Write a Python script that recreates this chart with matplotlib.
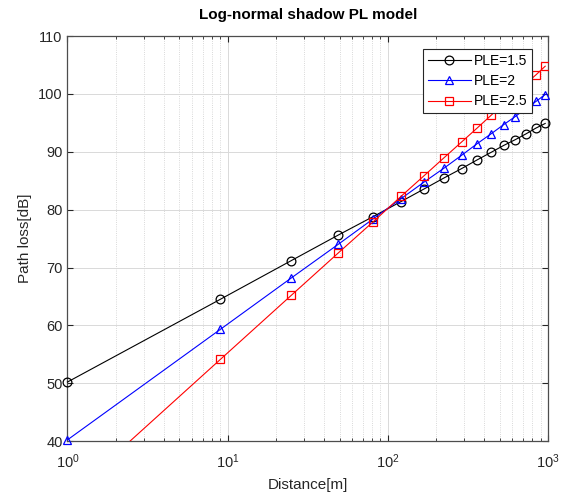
import numpy as np
import matplotlib.pyplot as plt
from matplotlib.ticker import LogLocator, NullFormatter

plt.rcParams['font.family'] = ['Liberation Sans', 'DejaVu Sans']

# Datos
distancia = [1, 9, 25, 49, 81, 121, 169, 225, 289, 361, 441, 529, 625, 729, 841, 961]
pl_15 = [50.2, 64.5, 71.2, 75.6, 78.8, 81.4, 83.6, 85.5, 87.1, 88.6, 89.9, 91.1, 92.1, 93.1, 94.1, 94.9]
pl_20 = [40.2, 59.3, 68.2, 74.0, 78.4, 81.9, 84.8, 87.2, 89.4, 91.4, 93.1, 94.7, 96.1, 97.5, 98.7, 99.9]
pl_25 = [30.2, 54.1, 65.2, 72.5, 77.9, 82.3, 85.9, 89.0, 91.7, 94.1, 96.3, 98.3, 100.1, 101.8, 103.3, 104.8]
etiquetas = ['PLE=1.5', 'PLE=2', 'PLE=2.5']

gris = '#262626'

fig = plt.figure(figsize=(5.62, 4.95), dpi=100)
ax = fig.add_axes([0.120, 0.109, 0.855, 0.818])

ax.semilogx(distancia, pl_15, 'k-o', lw=0.8, ms=6.3, mfc='none', mew=0.9,
            label=etiquetas[0], clip_on=False, zorder=3)
ax.semilogx(distancia, pl_20, '-^', color='#0000ff', lw=0.8, ms=6.3, mfc='none', mew=0.9,
            label=etiquetas[1], clip_on=False, zorder=3)
ax.semilogx(distancia, pl_25, '-s', color='#ff0000', lw=0.8, ms=5.5, mfc='none', mew=0.9,
            label=etiquetas[2], zorder=3)

ax.set_xlim(1, 1000)
ax.set_ylim(40, 110)
ax.set_yticks(np.arange(40, 111, 10))
ax.xaxis.set_major_locator(LogLocator(base=10))
ax.xaxis.set_minor_locator(LogLocator(base=10, subs=np.arange(2, 10)))
ax.xaxis.set_minor_formatter(NullFormatter())

ax.grid(True, which='major', color='#d9d9d9', lw=0.7, ls='-')
ax.grid(True, which='minor', axis='x', color='#cccccc', lw=0.6, ls=':')
ax.set_axisbelow(True)

ax.tick_params(which='both', direction='in', top=True, right=True, colors=gris,
               labelsize=10.5)
ax.tick_params(which='major', length=4)
ax.tick_params(which='minor', length=2.5)
ax.tick_params(axis='x', which='major', pad=8)
for s in ax.spines.values():
    s.set_color('#4d4d4d')
    s.set_linewidth(0.9)

ax.set_title('Log-normal shadow PL model', fontsize=11, fontweight='bold', pad=12)
ax.set_xlabel('Distance[m]', fontsize=11, color=gris, labelpad=5)
ax.set_ylabel('Path loss[dB]', fontsize=11, color=gris, labelpad=4)

leg = ax.legend(loc='upper right', bbox_to_anchor=(0.967, 0.968), fontsize=10,
                handlelength=3.1, borderpad=0.35, labelspacing=0.45, handletextpad=0.2,
                fancybox=False, framealpha=1, edgecolor='#262626', borderaxespad=0)
leg.get_frame().set_linewidth(0.8)

fig.savefig('out.png', dpi=100)
